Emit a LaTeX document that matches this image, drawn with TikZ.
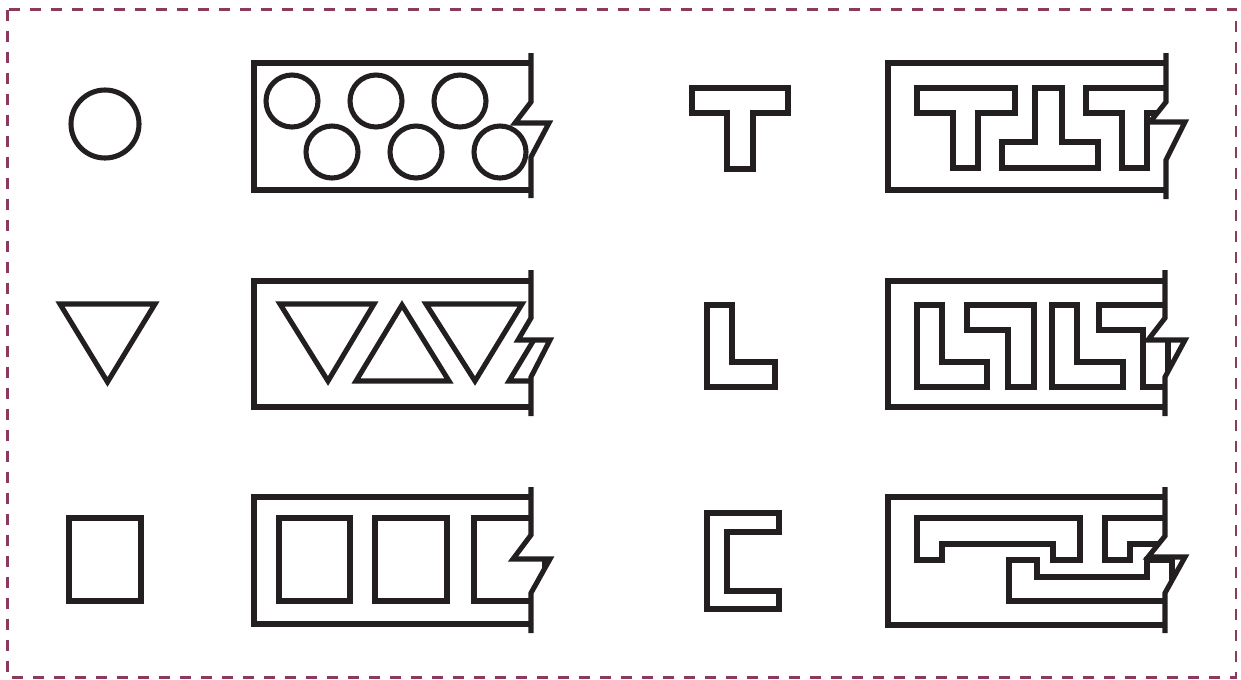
\documentclass[tikz,border=0pt]{standalone}
\usepackage{tikz}
\definecolor{ink}{HTML}{231F20}
\definecolor{frame}{HTML}{8A3A5C}
\begin{document}
\begin{tikzpicture}[x=0.75pt,y=-0.75pt,
  shp/.style={draw=ink,line width=3.8pt,line join=miter,fill=none},
  brd/.style={draw=frame,line width=1.8pt,dash pattern=on 8.25pt off 7.5pt}]
\useasboundingbox (0,0) rectangle (1241,679);
\draw[brd] (7.5,9.5) rectangle (1235.7,677.3);

% ---------- left column single shapes
\draw[shp] (105,124) circle[radius=34];
\draw[shp] (60,304) -- (155,304) -- (107.5,382) -- cycle;
\draw[shp] (69,518) rectangle (141,601);

% ---------- row 1 left: circles
\begin{scope}
\clip (230,30) -- (531,30) -- (531,102) -- (515,123) -- (549,123) -- (531,157) -- (531,220) -- (230,220) -- cycle;
\foreach \cx/\cy in {292/101,376/101,460/101,332/152,416/152,500/152}
  \draw[shp] (\cx,\cy) circle[radius=26];
\end{scope}
\draw[shp] (531,63) -- (254,63) -- (254,190) -- (531,190);
\draw[shp] (531,53) -- (531,102) -- (515,123) -- (549,123) -- (531,157) -- (531,198);

% ---------- row 2 left: triangles
\begin{scope}
\clip (230,250) -- (531,250) -- (531,318) -- (518,340) -- (550,340) -- (531,377) -- (531,440) -- (230,440) -- cycle;
\draw[shp] (280,304) -- (374,304) -- (328,381) -- cycle;
\draw[shp] (356,381) -- (402,305) -- (449,381) -- cycle;
\draw[shp] (426,304) -- (522,304) -- (475,381) -- cycle;
\draw[shp] (509,381) -- (555,305) -- (601,381) -- cycle;
\end{scope}
\draw[shp] (531,281) -- (254,281) -- (254,407) -- (531,407);
\draw[shp] (531,270) -- (531,318) -- (518,340) -- (550,340) -- (531,377) -- (531,416);

% ---------- row 3 left: rectangles
\begin{scope}
\clip (230,470) -- (531,470) -- (531,535) -- (513,559) -- (550,559) -- (531,593) -- (531,660) -- (230,660) -- cycle;
\draw[shp] (279,518) rectangle (350,601);
\draw[shp] (375,518) rectangle (447,601);
\draw[shp] (474,518) rectangle (545,601);
\end{scope}
\draw[shp] (531,497) -- (254,497) -- (254,624) -- (531,624);
\draw[shp] (531,487) -- (531,535) -- (513,559) -- (550,559) -- (531,593) -- (531,633);

% ---------- middle single shapes
\draw[shp] (692,88) -- (788,88) -- (788,113) -- (753,113) -- (753,169) -- (727,169) -- (727,113) -- (692,113) -- cycle;
\draw[shp] (707,305) -- (732,305) -- (732,362) -- (775,362) -- (775,387) -- (707,387) -- cycle;
\draw[shp] (707,513) -- (779,513) -- (779,532) -- (727,532) -- (727,591) -- (779,591) -- (779,609) -- (707,609) -- cycle;

% ---------- row 1 right: T shapes
\begin{scope}
\clip (870,30) -- (1166,30) -- (1166,102) -- (1150,122) -- (1185,122) -- (1166,160) -- (1166,220) -- (870,220) -- cycle;
\draw[shp] (917,88) -- (1015,88) -- (1015,113) -- (978,113) -- (978,168) -- (953,168) -- (953,113) -- (917,113) -- cycle;
\draw[shp] (1035,88) -- (1062,88) -- (1062,142) -- (1098,142) -- (1098,168) -- (1002,168) -- (1002,142) -- (1035,142) -- cycle;
\draw[shp] (1086,88) -- (1184,88) -- (1184,113) -- (1147,113) -- (1147,168) -- (1122,168) -- (1122,113) -- (1086,113) -- cycle;
\end{scope}
\draw[shp] (1166,63) -- (888,63) -- (888,190) -- (1166,190);
\draw[shp] (1166,53) -- (1166,102) -- (1150,122) -- (1185,122) -- (1166,160) -- (1166,199);

% ---------- row 2 right: L shapes
\begin{scope}
\clip (870,250) -- (1165,250) -- (1165,318) -- (1148,340) -- (1185,340) -- (1165,377) -- (1165,440) -- (870,440) -- cycle;
\draw[shp] (917,305) -- (942,305) -- (942,362) -- (987,362) -- (987,387) -- (917,387) -- cycle;
\draw[shp] (967,305) -- (1034,305) -- (1034,387) -- (1008,387) -- (1008,330) -- (967,330) -- cycle;
\draw[shp] (1052,305) -- (1077,305) -- (1077,362) -- (1123,362) -- (1123,387) -- (1052,387) -- cycle;
\draw[shp] (1099,305) -- (1168,305) -- (1168,387) -- (1143,387) -- (1143,330) -- (1099,330) -- cycle;
\end{scope}
\draw[shp] (1165,281) -- (888,281) -- (888,407) -- (1165,407);
\draw[shp] (1165,270) -- (1165,318) -- (1148,340) -- (1185,340) -- (1165,377) -- (1165,416);

% ---------- row 3 right: bracket shapes
\begin{scope}
\clip (870,470) -- (1165,470) -- (1165,536) -- (1148,557) -- (1185,557) -- (1165,593) -- (1165,660) -- (870,660) -- cycle;
\draw[shp] (917,518) -- (1080,518) -- (1080,560) -- (1053,560) -- (1053,544) -- (942,544) -- (942,560) -- (917,560) -- cycle;
\draw[shp] (1009,560) -- (1037,560) -- (1037,577) -- (1147,577) -- (1147,560) -- (1172,560) -- (1172,601) -- (1009,601) -- cycle;
\draw[shp] (1105,518) -- (1268,518) -- (1268,560) -- (1241,560) -- (1241,544) -- (1130,544) -- (1130,560) -- (1105,560) -- cycle;
\end{scope}
\draw[shp] (1165,497) -- (888,497) -- (888,625) -- (1165,625);
\draw[shp] (1165,487) -- (1165,536) -- (1148,557) -- (1185,557) -- (1165,593) -- (1165,633);
\end{tikzpicture}
\end{document}
